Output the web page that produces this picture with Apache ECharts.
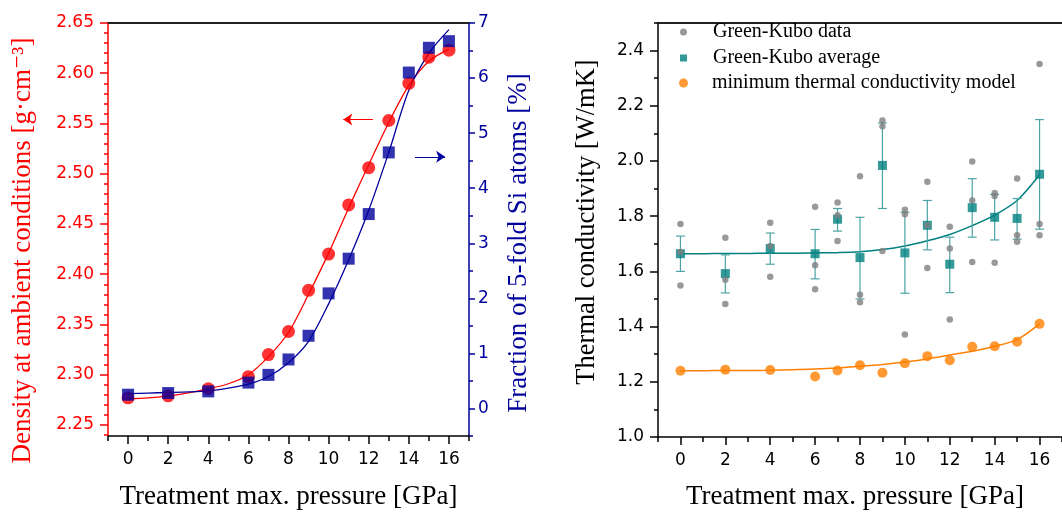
<!DOCTYPE html>
<html><head><meta charset="utf-8">
<script src="https://cdn.jsdelivr.net/npm/echarts@6/dist/echarts.min.js"></script>
<style>html,body{margin:0;padding:0;background:#fff}#c{width:1062px;height:515px}</style>
</head><body><div id="c"></div>
<script>
// ---------- Left panel data ----------
const pressure = [0, 2, 4, 6, 7, 8, 9, 10, 11, 12, 13, 14, 15, 16];
const density = [2.277, 2.279, 2.286, 2.298, 2.320, 2.343, 2.384, 2.420, 2.469, 2.506, 2.553, 2.590, 2.616, 2.623];
const fraction = [0.25, 0.28, 0.31, 0.47, 0.61, 0.89, 1.32, 2.09, 2.72, 3.53, 4.65, 6.10, 6.55, 6.67];
// fitted curves at every integer pressure
const fitX = [0, 1, 2, 3, 4, 5, 6, 7, 8, 9, 10, 11, 12, 13, 14, 15, 16];
const densityFit = [2.276, 2.277, 2.279, 2.282, 2.286, 2.291, 2.300, 2.318, 2.342, 2.380, 2.421, 2.466, 2.509, 2.551, 2.588, 2.612, 2.624];
const fractionFit = [0.27, 0.28, 0.29, 0.30, 0.32, 0.37, 0.44, 0.58, 0.83, 1.22, 1.90, 2.70, 3.60, 4.65, 5.78, 6.45, 6.88];
const densityArrow = { y: 2.554, xFrom: 12.21, xTo: 10.73 };
const fractionArrow = { y: 4.57, xFrom: 14.31, xTo: 15.81 };

// ---------- Right panel data ----------
const tcX = [0, 2, 4, 6, 7, 8, 9, 10, 11, 12, 13, 14, 15, 16];
const gkSamples = [
  [1.772, 1.670, 1.549],
  [1.722, 1.570, 1.482],
  [1.776, 1.692, 1.581],
  [1.834, 1.622, 1.535],
  [1.850, 1.803, 1.710],
  [1.945, 1.515, 1.488],
  [2.147, 2.126, 1.674],
  [1.823, 1.807, 1.371],
  [1.925, 1.767, 1.612],
  [1.762, 1.683, 1.426],
  [1.998, 1.857, 1.634],
  [1.884, 1.873, 1.631],
  [1.937, 1.731, 1.707],
  [2.351, 1.772, 1.731]
];
const gkAvg = [1.664, 1.592, 1.683, 1.664, 1.789, 1.650, 1.984, 1.667, 1.767, 1.626, 1.831, 1.796, 1.792, 1.952];
const gkErrHigh = [1.728, 1.660, 1.739, 1.752, 1.828, 1.796, 2.138, 1.814, 1.857, 1.724, 1.936, 1.879, 1.864, 2.150];
const gkErrLow = [1.600, 1.522, 1.626, 1.573, 1.746, 1.500, 1.828, 1.521, 1.678, 1.523, 1.724, 1.714, 1.717, 1.753];
const gkFit = [1.664, 1.664, 1.665, 1.665, 1.666, 1.666, 1.667, 1.668, 1.671, 1.679, 1.692, 1.711, 1.734, 1.766, 1.804, 1.857, 1.950];
const tcModel = [1.240, 1.244, 1.243, 1.219, 1.241, 1.260, 1.233, 1.267, 1.293, 1.278, 1.327, 1.329, 1.345, 1.410];
const modelFit = [1.240, 1.240, 1.241, 1.241, 1.242, 1.244, 1.246, 1.250, 1.256, 1.263, 1.272, 1.283, 1.297, 1.311, 1.329, 1.353, 1.410];

// ---------- Tick labels ----------
const xTickLabels = [0, 2, 4, 6, 8, 10, 12, 14, 16];
const densityTicks = [2.25, 2.30, 2.35, 2.40, 2.45, 2.50, 2.55, 2.60, 2.65];
const fractionTicks = [0, 1, 2, 3, 4, 5, 6, 7];
const tcTicks = [1.0, 1.2, 1.4, 1.6, 1.8, 2.0, 2.2, 2.4];

const SERIF = "'Liberation Serif','Times New Roman','DejaVu Serif',serif";
const SANS = "'DejaVu Sans','Liberation Sans',Arial,sans-serif";
const LBL = 17;
const RED = '#ff0000', BLUE = '#00009c', TEAL = '#008080', GRAY = '#808080', ORANGE = '#ff8000';

function minors(start, end, step, majors) {
  const out = [];
  const n = Math.round((end - start) / step);
  for (let i = 0; i <= n; i++) {
    const v = Math.round((start + i * step) * 1000) / 1000;
    if (!majors.some(m => Math.abs(m - v) < 1e-6)) out.push(v);
  }
  return out;
}
const xMinor = minors(-1, 17, 1, xTickLabels);
const densityMinor = minors(2.24, 2.65, 0.01, densityTicks);
const fractionMinor = minors(-0.5, 7, 0.5, fractionTicks);
const tcMinor = minors(1.0, 2.5, 0.1, tcTicks);

function overlayAxis(o) {
  return Object.assign({
    type: 'value', splitLine: { show: false },
    axisLine: { show: false, onZero: false }, axisLabel: { show: false }
  }, o);
}

const xMain = (grid, name, gap, pad) => ({
  type: 'value', gridIndex: grid, position: 'bottom', min: -1, max: 17,
  splitLine: { show: false },
  axisLine: { show: true, onZero: false, lineStyle: { color: '#000', width: 1.5 } },
  axisTick: { show: true, customValues: xTickLabels, length: 8, lineStyle: { color: '#000', width: 1.5 } },
  axisLabel: { show: true, customValues: xTickLabels, margin: 15, color: '#000', fontSize: LBL, fontFamily: SANS },
  name: name, nameLocation: 'middle', nameGap: gap,
  nameTextStyle: { fontFamily: SERIF, fontSize: 27, color: '#000', padding: pad }
});
const xMinorAxis = grid => overlayAxis({
  gridIndex: grid, position: 'bottom', min: -1, max: 17,
  axisTick: { show: true, customValues: xMinor, length: 5, lineStyle: { color: '#000', width: 1.5 } }
});
const topLine = grid => overlayAxis({
  gridIndex: grid, position: 'top', min: -1, max: 17,
  axisLine: { show: true, onZero: false, lineStyle: { color: '#222', width: 2 } },
  axisTick: { show: false }
});
const fitLine = (name, xi, yi, ys, color, width) => ({
  name: name, type: 'line', xAxisIndex: xi, yAxisIndex: yi, smooth: 0.3,
  symbol: 'none', lineStyle: { color: color, width: width }, z: 2,
  data: fitX.map((x, i) => [x, ys[i]])
});

const option = {
  animation: false,
  backgroundColor: '#fff',
  grid: [
    { left: 108, top: 23, width: 361, height: 417 },
    { left: 658, top: 23, width: 417, height: 418 }
  ],
  xAxis: [
    xMain(0, 'Treatment max. pressure [GPa]', 47, [0, 0, 0, 0]),
    xMinorAxis(0),
    topLine(0),
    xMain(1, 'Treatment max. pressure [GPa]', 46, [0, 10, 0, 0]),
    xMinorAxis(1),
    topLine(1)
  ],
  yAxis: [
    { type: 'value', gridIndex: 0, position: 'left', min: 2.239, max: 2.65,
      splitLine: { show: false },
      axisLine: { show: true, onZero: false, lineStyle: { color: RED, width: 1.5 } },
      axisTick: { show: true, customValues: densityTicks, length: 8, lineStyle: { color: RED, width: 1.5 } },
      axisLabel: { show: true, customValues: densityTicks, margin: 14, color: RED, fontSize: LBL, fontFamily: SANS,
        formatter: v => v.toFixed(2) },
      name: 'Density at ambient conditions [g·cm⁻³]', nameLocation: 'middle', nameRotate: 90, nameGap: 72,
      nameTextStyle: { fontFamily: SERIF, fontSize: 27, color: RED, padding: [0, 42, 0, 0] } },
    overlayAxis({ gridIndex: 0, position: 'left', min: 2.239, max: 2.65,
      axisTick: { show: true, customValues: densityMinor, length: 4, lineStyle: { color: RED, width: 1.5 } } }),
    { type: 'value', gridIndex: 0, position: 'right', min: -0.5, max: 7,
      splitLine: { show: false },
      axisLine: { show: true, onZero: false, lineStyle: { color: BLUE, width: 1.5 } },
      axisTick: { show: true, customValues: fractionTicks, length: 6, lineStyle: { color: BLUE, width: 1.5 } },
      axisLabel: { show: true, customValues: fractionTicks, margin: 9, color: BLUE, fontSize: LBL, fontFamily: SANS },
      name: 'Fraction of 5-fold Si atoms [%]', nameLocation: 'middle', nameRotate: 90, nameGap: 36,
      nameTextStyle: { fontFamily: SERIF, fontSize: 27, color: BLUE, padding: [0, 27, 0, 0] } },
    overlayAxis({ gridIndex: 0, position: 'right', min: -0.5, max: 7,
      axisTick: { show: true, customValues: fractionMinor, length: 4, lineStyle: { color: BLUE, width: 1.5 } } }),
    { type: 'value', gridIndex: 1, position: 'left', min: 1.0, max: 2.5,
      splitLine: { show: false },
      axisLine: { show: true, onZero: false, lineStyle: { color: '#000', width: 1.5 } },
      axisTick: { show: true, customValues: tcTicks, length: 8, lineStyle: { color: '#000', width: 1.5 } },
      axisLabel: { show: true, customValues: tcTicks, margin: 14, color: '#000', fontSize: LBL, fontFamily: SANS,
        formatter: v => v.toFixed(1) },
      name: 'Thermal conductivity [W/mK]', nameLocation: 'middle', nameRotate: 90, nameGap: 57,
      nameTextStyle: { fontFamily: SERIF, fontSize: 26.5, color: '#000', padding: [0, 0, 0, 16] } },
    overlayAxis({ gridIndex: 1, position: 'left', min: 1.0, max: 2.5,
      axisTick: { show: true, customValues: tcMinor, length: 4, lineStyle: { color: '#000', width: 1.5 } } })
  ],
  legend: [
    { data: [{ name: 'Green-Kubo data', icon: 'circle' }], left: 680, top: 22, padding: 0,
      itemWidth: 7, itemHeight: 7, selectedMode: false,
      textStyle: { fontFamily: SERIF, fontSize: 20, color: '#000', padding: [0, 0, 0, 21] } },
    { data: [{ name: 'Green-Kubo average', icon: 'rect' }], left: 680, top: 48, padding: 0,
      itemWidth: 7, itemHeight: 7, selectedMode: false,
      textStyle: { fontFamily: SERIF, fontSize: 20, color: '#000', padding: [0, 0, 0, 21] } },
    { data: [{ name: 'minimum thermal conductivity model', icon: 'circle' }], left: 679, top: 73, padding: 0,
      itemWidth: 9, itemHeight: 9, selectedMode: false,
      textStyle: { fontFamily: SERIF, fontSize: 20, color: '#000', padding: [0, 0, 0, 19] } }
  ],
  series: [
    // ----- left panel -----
    fitLine('density fit', 0, 0, densityFit, RED, 1.3),
    fitLine('fraction fit', 0, 2, fractionFit, BLUE, 1.3),
    { name: 'Density', type: 'scatter', xAxisIndex: 0, yAxisIndex: 0, symbol: 'circle', symbolSize: 13,
      itemStyle: { color: RED }, z: 4,
      data: pressure.map((x, i) => [x, density[i]]),
      markLine: { silent: true, symbol: ['none', 'arrow'], symbolSize: 9, label: { show: false },
        lineStyle: { color: RED, width: 1, type: 'solid' },
        data: [[{ coord: [densityArrow.xFrom, densityArrow.y] }, { coord: [densityArrow.xTo, densityArrow.y] }]] } },
    { name: 'Fraction', type: 'scatter', xAxisIndex: 0, yAxisIndex: 2, symbol: 'rect', symbolSize: 12,
      itemStyle: { color: BLUE }, z: 5,
      data: pressure.map((x, i) => [x, fraction[i]]),
      markLine: { silent: true, symbol: ['none', 'arrow'], symbolSize: 9, label: { show: false },
        lineStyle: { color: BLUE, width: 1, type: 'solid' },
        data: [[{ coord: [fractionArrow.xFrom, fractionArrow.y] }, { coord: [fractionArrow.xTo, fractionArrow.y] }]] } },
    // ----- right panel -----
    fitLine('gk fit', 3, 4, gkFit, TEAL, 1.5),
    fitLine('model fit', 3, 4, modelFit, ORANGE, 1.5),
    { name: 'gk err', type: 'custom', xAxisIndex: 3, yAxisIndex: 4, z: 3,
      encode: { x: 0, y: [1, 2] },
      data: tcX.map((x, i) => [x, gkErrLow[i], gkErrHigh[i]]),
      renderItem: (params, api) => {
        const x = api.value(0);
        const lo = api.coord([x, api.value(1)]);
        const hi = api.coord([x, api.value(2)]);
        const cw = 4.5;
        const style = { stroke: '#4da3a3', lineWidth: 1.2, fill: null };
        return { type: 'group', children: [
          { type: 'line', shape: { x1: lo[0], y1: lo[1], x2: hi[0], y2: hi[1] }, style },
          { type: 'line', shape: { x1: lo[0] - cw, y1: lo[1], x2: lo[0] + cw, y2: lo[1] }, style },
          { type: 'line', shape: { x1: hi[0] - cw, y1: hi[1], x2: hi[0] + cw, y2: hi[1] }, style }
        ] };
      } },
    { name: 'Green-Kubo average', type: 'scatter', xAxisIndex: 3, yAxisIndex: 4, symbol: 'rect', symbolSize: 9,
      itemStyle: { color: TEAL }, z: 4,
      data: tcX.map((x, i) => [x, gkAvg[i]]) },
    { name: 'Green-Kubo data', type: 'scatter', xAxisIndex: 3, yAxisIndex: 4, symbol: 'circle', symbolSize: 6.5,
      itemStyle: { color: GRAY }, z: 5,
      data: tcX.flatMap((x, i) => gkSamples[i].map(v => [x, v])) },
    { name: 'minimum thermal conductivity model', type: 'scatter', xAxisIndex: 3, yAxisIndex: 4,
      symbol: 'circle', symbolSize: 10, itemStyle: { color: ORANGE }, z: 6,
      data: tcX.map((x, i) => [x, tcModel[i]]) }
  ]
};

const chart = echarts.init(document.getElementById('c'), null, { renderer: 'canvas' });
chart.setOption(option);
</script></body></html>
